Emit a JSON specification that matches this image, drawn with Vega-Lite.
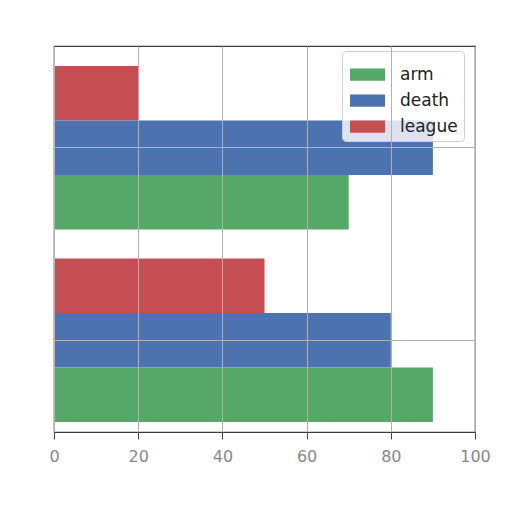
{
  "$schema": "https://vega.github.io/schema/vega-lite/v6.json",
  "width": 421,
  "height": 386,
  "autosize": "none",
  "padding": {"left": 54, "top": 46, "right": 37, "bottom": 80},
  "background": "white",
  "config": {
    "view": {"stroke": "#3a3a3a", "strokeWidth": 1.2},
    "font": "DejaVu Sans"
  },
  "data": {
    "values": [
      {"group": "g1", "series": "league", "value": 20},
      {"group": "g1", "series": "death", "value": 90},
      {"group": "g1", "series": "arm", "value": 70},
      {"group": "g2", "series": "league", "value": 50},
      {"group": "g2", "series": "death", "value": 80},
      {"group": "g2", "series": "arm", "value": 90}
    ]
  },
  "mark": {"type": "bar", "opacity": 1},
  "encoding": {
    "y": {
      "field": "group",
      "type": "nominal",
      "scale": {"domain": ["g1", "g2"], "paddingInner": 0.15, "paddingOuter": 0.078, "align": 0.667},
      "axis": {
        "title": null,
        "labels": false,
        "ticks": false,
        "domain": false,
        "grid": true,
        "bandPosition": 0.5,
        "gridColor": "#b0b0b0",
        "gridWidth": 1,
        "zindex": 1
      }
    },
    "yOffset": {
      "field": "series",
      "type": "nominal",
      "scale": {"domain": ["league", "death", "arm"], "paddingInner": 0, "paddingOuter": 0}
    },
    "x": {
      "field": "value",
      "type": "quantitative",
      "scale": {"domain": [0, 100], "nice": false},
      "axis": {
        "title": null,
        "values": [0, 20, 40, 60, 80, 100],
        "grid": true,
        "gridColor": "#b0b0b0",
        "gridWidth": 1,
        "domain": false,
        "labelFlush": false,
        "tickColor": "#444",
        "tickSize": 7,
        "labelColor": "#888",
        "labelFontSize": 16,
        "labelPadding": 9,
        "zindex": 1
      }
    },
    "color": {
      "field": "series",
      "type": "nominal",
      "scale": {"domain": ["arm", "death", "league"], "range": ["#55a868", "#4c72b0", "#c44e52"]},
      "legend": {
        "title": null,
        "orient": "none",
        "legendX": 288,
        "legendY": 5,
        "fillColor": "rgba(255,255,255,0.8)",
        "strokeColor": "#d0d0d0",
        "cornerRadius": 4,
        "padding": 6,
        "symbolOffset": 2,
        "symbolType": "M-1,-0.35L1,-0.35L1,0.35L-1,0.35Z",
        "symbolSize": 1225,
        "symbolStrokeWidth": 0,
        "symbolOpacity": 1,
        "labelFontSize": 17,
        "labelColor": "#222",
        "labelOffset": 15,
        "rowPadding": 0
      }
    }
  }
}
